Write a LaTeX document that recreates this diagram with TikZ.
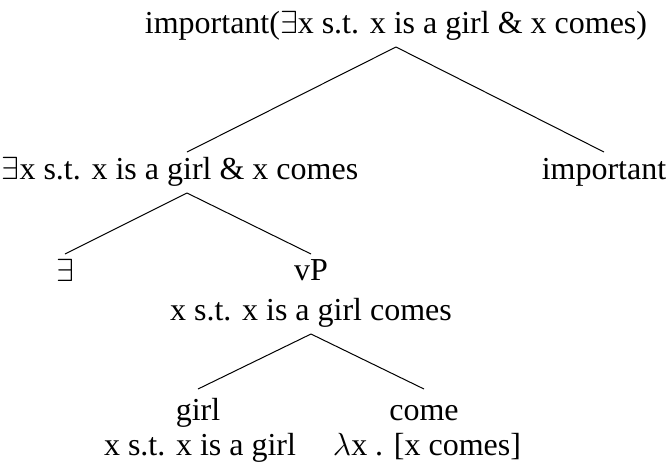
\RequirePackage{fix-cm}
\documentclass[tikz,border=0pt]{standalone}
\usepackage{fontspec}
\setmainfont{Liberation Serif}
\begin{document}
\begin{tikzpicture}[x=0.5pt,y=-0.5pt,
  lbl/.style={inner sep=0pt, anchor=base, font=\fontsize{16}{19}\selectfont},
  branch/.style={line width=0.5pt}]
\useasboundingbox (0,0) rectangle (670,463);
% nodes (base positions)
\node[lbl] (top) at (396,33) {important($\exists$x s.t. x is a girl \& x comes)};
\node[lbl] (L) at (180,179) {$\exists$x s.t. x is a girl \& x comes};
\node[lbl] (R) at (604,179) {important};
\node[lbl] (E) at (65,281) {$\exists$};
\node[lbl] (V) at (311,280) {vP};
\node[lbl] (Vs) at (311,320) {x s.t. x is a girl comes};
\node[lbl] (G) at (198,420) {girl};
\node[lbl] (Gs) at (200,455) {x s.t. x is a girl};
\node[lbl] (C) at (424,420) {come};
\node[lbl] (Cs) at (427,455) {$\lambda$x . [x comes]};
% branches
\draw[branch] ([yshift=-7pt]top.base) -- ([xshift=3.5pt,yshift=13.5pt]L.base);
\draw[branch] ([yshift=-7pt]top.base) -- ([yshift=13.5pt]R.base);
\draw[branch] ([xshift=3.5pt,yshift=-7pt]L.base) -- ([yshift=13.5pt]E.base);
\draw[branch] ([xshift=3.5pt,yshift=-7pt]L.base) -- ([yshift=13pt]V.base);
\draw[branch] ([yshift=-7pt]Vs.base) -- ([yshift=15.5pt]G.base);
\draw[branch] ([yshift=-7pt]Vs.base) -- ([yshift=15.5pt]C.base);
\end{tikzpicture}
\end{document}
